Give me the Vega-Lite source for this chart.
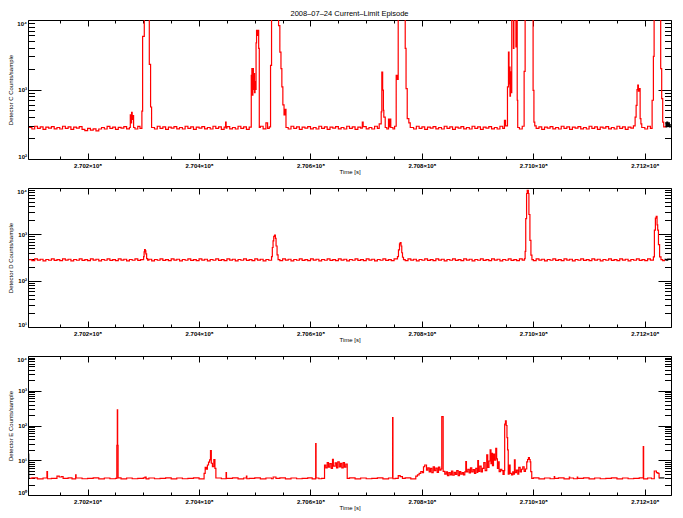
{
"$schema": "https://vega.github.io/schema/vega-lite/v6.json",
"background": "white",
"padding": {"left": 7, "top": 10, "right": 5, "bottom": 5},
"bounds": "flush",
"spacing": 29,
"config": {"font": "Liberation Sans", "view": {"stroke": null},
  "axis": {"grid": false, "domainColor": "black", "tickColor": "black", "labelColor": "black", "titleColor": "black", "domainWidth": 1, "tickWidth": 1, "labelFont": "Liberation Sans", "labelFontSize": 6, "labelFontWeight": "bold", "titleFont": "Liberation Sans", "titleFontSize": 6, "titleFontWeight": "normal"}},
"datasets": {
"c": [
{"t":270095000,"v":284},{"t":270100000,"v":270},{"t":270105000,"v":296},{"t":270110000,"v":276},{"t":270115000,"v":290},{"t":270120000,"v":266},{"t":270125000,"v":288},{"t":270130000,"v":279},{"t":270135000,"v":293},{"t":270140000,"v":272},
{"t":270145000,"v":284},{"t":270150000,"v":270},{"t":270155000,"v":296},{"t":270160000,"v":276},{"t":270165000,"v":290},{"t":270170000,"v":266},{"t":270175000,"v":288},{"t":270180000,"v":279},{"t":270185000,"v":293},
{"t":270190000,"v":266},{"t":270195000,"v":256},{"t":270200000,"v":276},{"t":270205000,"v":260},{"t":270210000,"v":272},{"t":270215000,"v":254},{"t":270220000,"v":270},
{"t":270225000,"v":284},{"t":270230000,"v":270},{"t":270235000,"v":294},{"t":270240000,"v":276},{"t":270245000,"v":288},{"t":270250000,"v":266},{"t":270255000,"v":286},{"t":270260000,"v":278},{"t":270265000,"v":292},{"t":270270000,"v":272},{"t":270275000,"v":284},
{"t":270276600,"v":430},{"t":270277700,"v":330},{"t":270278900,"v":470},{"t":270280000,"v":370},{"t":270281200,"v":420},{"t":270282500,"v":284},{"t":270285000,"v":270},{"t":270290000,"v":294},{"t":270294000,"v":276},
{"t":270297400,"v":490},{"t":270298700,"v":5820},{"t":270301700,"v":30000},{"t":270310700,"v":2300},{"t":270313000,"v":560},{"t":270314800,"v":284},
{"t":270320000,"v":270},{"t":270325000,"v":296},{"t":270330000,"v":276},{"t":270335000,"v":290},{"t":270340000,"v":266},{"t":270345000,"v":288},{"t":270350000,"v":279},{"t":270355000,"v":293},{"t":270360000,"v":272},{"t":270365000,"v":284},
{"t":270370000,"v":270},{"t":270375000,"v":296},{"t":270380000,"v":276},{"t":270385000,"v":290},{"t":270390000,"v":266},{"t":270395000,"v":288},{"t":270400000,"v":279},{"t":270405000,"v":293},{"t":270410000,"v":272},{"t":270415000,"v":284},
{"t":270420000,"v":270},{"t":270425000,"v":296},{"t":270430000,"v":276},{"t":270435000,"v":290},{"t":270440000,"v":266},{"t":270445000,"v":288},{"t":270447600,"v":340},{"t":270448600,"v":279},
{"t":270450000,"v":293},{"t":270455000,"v":272},{"t":270460000,"v":284},{"t":270465000,"v":270},{"t":270470000,"v":296},{"t":270475000,"v":276},{"t":270480000,"v":290},{"t":270485000,"v":266},{"t":270490000,"v":288},
{"t":270493700,"v":1600},{"t":270494800,"v":2000},{"t":270495700,"v":830},{"t":270496600,"v":2000},{"t":270497500,"v":1000},{"t":270498400,"v":1700},{"t":270499600,"v":900},{"t":270500500,"v":1300},{"t":270501400,"v":1000},{"t":270502300,"v":4700},{"t":270503200,"v":7100},{"t":270504600,"v":6000},{"t":270505800,"v":7100},{"t":270507000,"v":3900},{"t":270508100,"v":284},
{"t":270510000,"v":296},{"t":270515000,"v":272},{"t":270520000,"v":330},{"t":270523000,"v":276},{"t":270526000,"v":290},
{"t":270528300,"v":2230},{"t":270530100,"v":30000},{"t":270542700,"v":8300},{"t":270545000,"v":3460},{"t":270547000,"v":2000},{"t":270548600,"v":1090},{"t":270550400,"v":600},{"t":270552500,"v":430},{"t":270554500,"v":520},{"t":270556000,"v":284},
{"t":270560000,"v":270},{"t":270565000,"v":296},{"t":270570000,"v":276},{"t":270575000,"v":290},{"t":270580000,"v":266},{"t":270585000,"v":288},{"t":270590000,"v":279},{"t":270595000,"v":293},{"t":270600000,"v":272},{"t":270605000,"v":284},
{"t":270610000,"v":270},{"t":270615000,"v":296},{"t":270620000,"v":276},{"t":270625000,"v":290},{"t":270630000,"v":266},{"t":270635000,"v":288},{"t":270640000,"v":279},{"t":270645000,"v":293},{"t":270650000,"v":272},{"t":270655000,"v":284},
{"t":270660000,"v":270},{"t":270665000,"v":296},{"t":270670000,"v":276},{"t":270675000,"v":290},{"t":270680000,"v":266},{"t":270685000,"v":288},{"t":270690000,"v":279},{"t":270693000,"v":340},{"t":270694500,"v":293},
{"t":270700000,"v":272},{"t":270705000,"v":284},{"t":270710000,"v":270},{"t":270715000,"v":296},{"t":270720000,"v":276},
{"t":270723300,"v":320},{"t":270726900,"v":475},{"t":270728000,"v":1780},{"t":270729500,"v":980},{"t":270730800,"v":500},{"t":270731600,"v":400},{"t":270734100,"v":284},{"t":270737000,"v":270},{"t":270740000,"v":375},{"t":270741500,"v":290},{"t":270742500,"v":375},{"t":270744100,"v":284},{"t":270748000,"v":270},{"t":270751000,"v":296},
{"t":270753800,"v":1600},{"t":270755500,"v":1400},{"t":270757400,"v":30000},{"t":270770000,"v":3900},{"t":270771500,"v":1030},{"t":270773600,"v":380},{"t":270776500,"v":330},{"t":270779000,"v":284},
{"t":270785000,"v":270},{"t":270790000,"v":296},{"t":270795000,"v":276},{"t":270800000,"v":290},{"t":270805000,"v":266},{"t":270810000,"v":288},{"t":270815000,"v":279},{"t":270820000,"v":293},{"t":270825000,"v":272},{"t":270830000,"v":284},
{"t":270835000,"v":270},{"t":270840000,"v":296},{"t":270845000,"v":276},{"t":270850000,"v":290},{"t":270855000,"v":266},{"t":270860000,"v":288},{"t":270865000,"v":279},{"t":270870000,"v":293},{"t":270875000,"v":272},{"t":270880000,"v":284},
{"t":270885000,"v":270},{"t":270890000,"v":296},{"t":270895000,"v":276},{"t":270900000,"v":290},{"t":270905000,"v":266},{"t":270910000,"v":288},{"t":270915000,"v":279},{"t":270920000,"v":293},{"t":270925000,"v":272},{"t":270930000,"v":284},
{"t":270935000,"v":270},{"t":270940000,"v":296},{"t":270945000,"v":276},
{"t":270948100,"v":360},{"t":270950000,"v":300},{"t":270953500,"v":1090},{"t":270955300,"v":3460},{"t":270956300,"v":1200},{"t":270957100,"v":2100},{"t":270958000,"v":800},{"t":270958900,"v":1800},{"t":270960000,"v":900},{"t":270961200,"v":30000},{"t":270964200,"v":3900},{"t":270965000,"v":30000},{"t":270968700,"v":4100},{"t":270969600,"v":30000},{"t":270971000,"v":700},{"t":270971900,"v":284},
{"t":270975000,"v":270},{"t":270980000,"v":296},
{"t":270983400,"v":1820},{"t":270985200,"v":30000},{"t":270999500,"v":970},{"t":271001000,"v":340},{"t":271002500,"v":300},
{"t":271005000,"v":276},{"t":271010000,"v":290},{"t":271015000,"v":266},{"t":271020000,"v":288},{"t":271025000,"v":279},{"t":271030000,"v":293},{"t":271035000,"v":272},{"t":271040000,"v":284},{"t":271045000,"v":270},{"t":271050000,"v":296},
{"t":271055000,"v":276},{"t":271060000,"v":290},{"t":271065000,"v":266},{"t":271070000,"v":288},{"t":271075000,"v":279},{"t":271080000,"v":293},{"t":271085000,"v":272},{"t":271090000,"v":284},{"t":271095000,"v":270},{"t":271100000,"v":296},
{"t":271105000,"v":276},{"t":271110000,"v":290},{"t":271115000,"v":266},{"t":271120000,"v":288},{"t":271125000,"v":279},{"t":271130000,"v":293},{"t":271135000,"v":272},{"t":271140000,"v":284},{"t":271145000,"v":270},{"t":271150000,"v":296},
{"t":271155000,"v":276},{"t":271160000,"v":290},{"t":271165000,"v":266},{"t":271170000,"v":288},{"t":271175000,"v":279},
{"t":271179500,"v":300},{"t":271182600,"v":400},{"t":271184400,"v":590},{"t":271186000,"v":1000},{"t":271187300,"v":1160},{"t":271188500,"v":950},{"t":271189800,"v":1030},{"t":271191600,"v":380},{"t":271193000,"v":320},{"t":271194500,"v":284},
{"t":271200000,"v":270},{"t":271205000,"v":296},{"t":271210000,"v":276},
{"t":271213100,"v":700},{"t":271215400,"v":3000},{"t":271216700,"v":30000},{"t":271228500,"v":2000},{"t":271230300,"v":740},{"t":271232100,"v":340},{"t":271233900,"v":290},{"t":271236400,"v":284}
],
"cb": [
{"t":270093200,"v":290,"g":1},{"t":270095000,"v":285,"g":1},
{"t":271236400,"v":330,"g":2},{"t":271238000,"v":290,"g":2},{"t":271239500,"v":340,"g":2},{"t":271241000,"v":300,"g":2},{"t":271242500,"v":330,"g":2},{"t":271244000,"v":290,"g":2},{"t":271245500,"v":320,"g":2}
],
"d": [
{"t":270095000,"v":284},{"t":270100000,"v":272},{"t":270105000,"v":294},{"t":270110000,"v":278},{"t":270115000,"v":290},{"t":270120000,"v":268},{"t":270125000,"v":286},{"t":270130000,"v":276},{"t":270135000,"v":296},{"t":270140000,"v":274},
{"t":270145000,"v":284},{"t":270150000,"v":272},{"t":270155000,"v":294},{"t":270160000,"v":278},{"t":270165000,"v":290},{"t":270170000,"v":268},{"t":270175000,"v":286},{"t":270180000,"v":276},{"t":270185000,"v":296},{"t":270190000,"v":274},
{"t":270195000,"v":284},{"t":270200000,"v":272},{"t":270205000,"v":294},{"t":270210000,"v":278},{"t":270215000,"v":290},{"t":270220000,"v":268},{"t":270225000,"v":286},{"t":270230000,"v":276},{"t":270235000,"v":296},{"t":270240000,"v":274},
{"t":270245000,"v":284},{"t":270250000,"v":272},{"t":270255000,"v":294},{"t":270260000,"v":278},{"t":270265000,"v":290},{"t":270270000,"v":268},{"t":270275000,"v":286},{"t":270280000,"v":276},{"t":270285000,"v":296},{"t":270290000,"v":274},{"t":270295000,"v":284},
{"t":270300500,"v":330},{"t":270301400,"v":420},{"t":270302300,"v":470},{"t":270303500,"v":440},{"t":270304500,"v":380},{"t":270305900,"v":300},{"t":270307700,"v":278},
{"t":270310000,"v":290},{"t":270315000,"v":268},{"t":270320000,"v":286},{"t":270325000,"v":276},{"t":270330000,"v":296},{"t":270335000,"v":274},{"t":270340000,"v":284},{"t":270345000,"v":272},{"t":270350000,"v":294},{"t":270355000,"v":278},
{"t":270360000,"v":290},{"t":270365000,"v":268},{"t":270370000,"v":286},{"t":270375000,"v":276},{"t":270380000,"v":296},{"t":270385000,"v":274},{"t":270390000,"v":284},{"t":270395000,"v":272},{"t":270400000,"v":294},{"t":270405000,"v":278},
{"t":270410000,"v":290},{"t":270415000,"v":268},{"t":270420000,"v":286},{"t":270425000,"v":276},{"t":270430000,"v":296},{"t":270435000,"v":274},{"t":270440000,"v":284},{"t":270445000,"v":272},{"t":270450000,"v":294},{"t":270455000,"v":278},
{"t":270460000,"v":290},{"t":270465000,"v":268},{"t":270470000,"v":286},{"t":270475000,"v":276},{"t":270480000,"v":296},{"t":270485000,"v":274},{"t":270490000,"v":284},{"t":270495000,"v":272},{"t":270500000,"v":294},{"t":270505000,"v":278},
{"t":270510000,"v":290},{"t":270515000,"v":268},{"t":270520000,"v":286},{"t":270525000,"v":276},
{"t":270530100,"v":330},{"t":270531500,"v":520},{"t":270532800,"v":720},{"t":270534000,"v":900},{"t":270535500,"v":960},{"t":270537000,"v":820},{"t":270538200,"v":560},{"t":270540000,"v":360},{"t":270541800,"v":284},
{"t":270545000,"v":272},{"t":270550000,"v":294},{"t":270555000,"v":278},{"t":270560000,"v":290},{"t":270565000,"v":268},{"t":270570000,"v":286},{"t":270575000,"v":276},{"t":270580000,"v":296},{"t":270585000,"v":274},{"t":270590000,"v":284},
{"t":270595000,"v":272},{"t":270600000,"v":294},{"t":270605000,"v":278},{"t":270610000,"v":290},{"t":270615000,"v":268},{"t":270620000,"v":286},{"t":270625000,"v":276},{"t":270630000,"v":296},{"t":270635000,"v":274},{"t":270640000,"v":284},
{"t":270645000,"v":272},{"t":270650000,"v":294},{"t":270655000,"v":278},{"t":270660000,"v":290},{"t":270665000,"v":268},{"t":270670000,"v":286},{"t":270675000,"v":276},{"t":270680000,"v":296},{"t":270685000,"v":274},{"t":270690000,"v":284},
{"t":270695000,"v":272},{"t":270700000,"v":294},{"t":270705000,"v":278},{"t":270710000,"v":290},{"t":270715000,"v":268},{"t":270720000,"v":286},{"t":270725000,"v":276},{"t":270730000,"v":296},{"t":270735000,"v":274},{"t":270740000,"v":284},
{"t":270745000,"v":272},{"t":270750000,"v":294},
{"t":270756100,"v":330},{"t":270757900,"v":460},{"t":270759700,"v":620},{"t":270761000,"v":660},{"t":270762500,"v":560},{"t":270763800,"v":400},{"t":270765100,"v":320},{"t":270766900,"v":284},
{"t":270770000,"v":272},{"t":270775000,"v":294},{"t":270780000,"v":278},{"t":270785000,"v":290},{"t":270790000,"v":268},{"t":270795000,"v":286},{"t":270800000,"v":276},{"t":270805000,"v":296},{"t":270810000,"v":274},{"t":270815000,"v":284},
{"t":270820000,"v":272},{"t":270825000,"v":294},{"t":270830000,"v":278},{"t":270835000,"v":290},{"t":270840000,"v":268},{"t":270845000,"v":286},{"t":270850000,"v":276},{"t":270855000,"v":296},{"t":270860000,"v":274},{"t":270865000,"v":284},
{"t":270870000,"v":272},{"t":270875000,"v":294},{"t":270880000,"v":278},{"t":270885000,"v":290},{"t":270890000,"v":268},{"t":270895000,"v":286},{"t":270900000,"v":276},{"t":270905000,"v":296},{"t":270910000,"v":274},{"t":270915000,"v":284},
{"t":270920000,"v":272},{"t":270925000,"v":294},{"t":270930000,"v":278},{"t":270935000,"v":290},{"t":270940000,"v":268},{"t":270945000,"v":286},{"t":270950000,"v":276},{"t":270955000,"v":296},{"t":270960000,"v":274},{"t":270965000,"v":284},
{"t":270970000,"v":272},{"t":270975000,"v":294},{"t":270980000,"v":278},
{"t":270984000,"v":300},{"t":270985200,"v":430},{"t":270986300,"v":2180},{"t":270987800,"v":7600},{"t":270989000,"v":8900},{"t":270991000,"v":7600},{"t":270992000,"v":2680},{"t":270993800,"v":740},{"t":270995600,"v":355},{"t":270997400,"v":284},
{"t":271000000,"v":272},{"t":271005000,"v":294},{"t":271010000,"v":278},{"t":271015000,"v":290},{"t":271020000,"v":268},{"t":271025000,"v":286},{"t":271030000,"v":276},{"t":271035000,"v":296},{"t":271040000,"v":274},{"t":271045000,"v":284},
{"t":271050000,"v":272},{"t":271055000,"v":294},{"t":271060000,"v":278},{"t":271065000,"v":290},{"t":271070000,"v":268},{"t":271075000,"v":286},{"t":271080000,"v":276},{"t":271085000,"v":296},{"t":271090000,"v":274},{"t":271095000,"v":284},
{"t":271100000,"v":272},{"t":271105000,"v":294},{"t":271110000,"v":278},{"t":271115000,"v":290},{"t":271120000,"v":268},{"t":271125000,"v":286},{"t":271130000,"v":276},{"t":271135000,"v":296},{"t":271140000,"v":274},{"t":271145000,"v":284},
{"t":271150000,"v":272},{"t":271155000,"v":294},{"t":271160000,"v":278},{"t":271165000,"v":290},{"t":271170000,"v":268},{"t":271175000,"v":286},{"t":271180000,"v":276},{"t":271185000,"v":296},{"t":271190000,"v":274},{"t":271195000,"v":284},
{"t":271200000,"v":272},{"t":271205000,"v":294},{"t":271210000,"v":278},
{"t":271215400,"v":325},{"t":271217200,"v":1230},{"t":271219000,"v":2230},{"t":271220500,"v":2440},{"t":271222000,"v":1600},{"t":271223100,"v":1230},{"t":271224500,"v":600},{"t":271226500,"v":325},{"t":271229000,"v":284},{"t":271232000,"v":272},{"t":271235300,"v":284}
],
"db": [
{"t":270093200,"v":282,"g":1},{"t":270095000,"v":282,"g":1},
{"t":271235300,"v":290,"g":2},{"t":271238000,"v":276,"g":2},{"t":271241000,"v":292,"g":2},{"t":271245500,"v":280,"g":2}
],
"e": [
{"t":270096800,"v":3.0},{"t":270100000,"v":3.12},{"t":270110000,"v":2.9},{"t":270120000,"v":3.08},{"t":270127000,"v":4.7},{"t":270128000,"v":2.94},{"t":270135000,"v":3.0},
{"t":270145000,"v":3.5},{"t":270149000,"v":3.3},{"t":270153000,"v":3.4},{"t":270156000,"v":3.0},{"t":270165000,"v":3.12},{"t":270172000,"v":2.9},{"t":270178500,"v":3.8},{"t":270179300,"v":3.08},
{"t":270190000,"v":2.94},{"t":270200000,"v":3.0},{"t":270210000,"v":3.12},{"t":270220000,"v":2.9},{"t":270230000,"v":3.08},{"t":270240000,"v":2.94},{"t":270250000,"v":3.0},
{"t":270252400,"v":27},{"t":270253300,"v":280},{"t":270253900,"v":27},{"t":270254700,"v":3.12},
{"t":270260000,"v":2.9},{"t":270270000,"v":3.08},{"t":270280000,"v":2.94},{"t":270290000,"v":3.0},{"t":270300000,"v":3.12},{"t":270303000,"v":3.3},{"t":270305000,"v":2.9},
{"t":270310000,"v":3.08},{"t":270320000,"v":2.94},{"t":270330000,"v":3.0},{"t":270340000,"v":3.12},{"t":270350000,"v":2.9},{"t":270360000,"v":3.08},{"t":270370000,"v":2.94},{"t":270380000,"v":3.0},{"t":270390000,"v":3.12},{"t":270400000,"v":2.9},
{"t":270409000,"v":4.2},{"t":270411000,"v":6.2},{"t":270413000,"v":5.5},{"t":270415000,"v":7.3},{"t":270417000,"v":8.8},{"t":270418900,"v":10.2},{"t":270420500,"v":18.9},{"t":270422000,"v":8.2},{"t":270424000,"v":6.5},{"t":270426500,"v":10.4},{"t":270428500,"v":5.8},{"t":270430200,"v":3.08},
{"t":270440000,"v":2.94},{"t":270448500,"v":4.4},{"t":270449200,"v":3.0},{"t":270460000,"v":3.12},{"t":270470000,"v":2.9},{"t":270480000,"v":3.08},{"t":270485000,"v":3.5},{"t":270485800,"v":2.94},
{"t":270490000,"v":3.0},{"t":270500000,"v":3.12},{"t":270510000,"v":2.9},{"t":270520000,"v":3.08},{"t":270530000,"v":2.94},{"t":270533000,"v":3.3},{"t":270538000,"v":3.0},
{"t":270545000,"v":3.12},{"t":270555000,"v":2.9},{"t":270565000,"v":3.08},{"t":270575000,"v":2.94},{"t":270585000,"v":3.0},{"t":270595000,"v":3.12},{"t":270603000,"v":2.9},
{"t":270609300,"v":30},{"t":270610000,"v":3.08},{"t":270615000,"v":2.94},{"t":270620000,"v":3.0},
{"t":270625200,"v":7.3},{"t":270627500,"v":6.0},{"t":270630000,"v":8.5},{"t":270632300,"v":6.3},{"t":270634700,"v":8.0},{"t":270637200,"v":5.8},{"t":270639500,"v":10.6},{"t":270641000,"v":6.8},{"t":270644300,"v":8.4},{"t":270646700,"v":6.0},
{"t":270649000,"v":9.0},{"t":270651600,"v":6.4},{"t":270653900,"v":8.2},{"t":270656200,"v":6.0},{"t":270658700,"v":8.6},{"t":270661000,"v":6.3},{"t":270663400,"v":7.8},{"t":270665900,"v":3.0},
{"t":270670000,"v":3.12},{"t":270680000,"v":2.9},{"t":270690000,"v":3.08},{"t":270700000,"v":2.94},{"t":270710000,"v":3.0},{"t":270720000,"v":3.12},{"t":270730000,"v":2.9},{"t":270740000,"v":3.08},
{"t":270747400,"v":168},{"t":270748000,"v":2.94},{"t":270752000,"v":3.0},{"t":270757500,"v":3.6},{"t":270761000,"v":3.4},{"t":270765000,"v":3.0},{"t":270770000,"v":3.12},{"t":270780000,"v":2.9},
{"t":270789000,"v":3.5},{"t":270792000,"v":3.8},{"t":270795000,"v":4.2},{"t":270798000,"v":4.7},{"t":270801000,"v":4.4},{"t":270802800,"v":6.5},{"t":270805000,"v":7.3},
{"t":270808200,"v":5.2},{"t":270810500,"v":6.0},{"t":270813000,"v":4.6},{"t":270815300,"v":5.8},{"t":270817700,"v":4.4},{"t":270820200,"v":6.5},{"t":270822500,"v":5.0},{"t":270824900,"v":5.9},{"t":270827400,"v":4.5},{"t":270829700,"v":6.3},
{"t":270832000,"v":5.2},{"t":270834200,"v":5.6},{"t":270835600,"v":180},{"t":270838100,"v":4.8},{"t":270841000,"v":4.0},{"t":270843500,"v":4.6},{"t":270845800,"v":3.6},{"t":270848200,"v":4.4},{"t":270850700,"v":3.8},{"t":270853000,"v":4.9},
{"t":270855300,"v":3.7},{"t":270857900,"v":4.5},{"t":270860200,"v":3.9},{"t":270862500,"v":5.0},{"t":270865000,"v":3.6},{"t":270867400,"v":4.7},{"t":270869700,"v":4.0},{"t":270872200,"v":4.4},{"t":270874500,"v":3.8},{"t":270876900,"v":4.6},
{"t":270878700,"v":9.1},{"t":270879900,"v":4.6},{"t":270882300,"v":5.5},{"t":270884800,"v":4.3},{"t":270887100,"v":6.0},{"t":270889400,"v":4.6},{"t":270891900,"v":5.4},{"t":270894300,"v":4.2},{"t":270896600,"v":5.8},{"t":270899100,"v":4.5},
{"t":270900200,"v":9.7},{"t":270901500,"v":4.8},{"t":270903800,"v":6.8},{"t":270906300,"v":4.6},{"t":270908600,"v":5.8},{"t":270911000,"v":8.5},{"t":270913500,"v":5.0},{"t":270916300,"v":14.2},{"t":270918100,"v":6.2},{"t":270920300,"v":9.5},
{"t":270922400,"v":19.8},{"t":270923900,"v":8.0},{"t":270925300,"v":15.8},{"t":270926600,"v":7.0},{"t":270928400,"v":15.0},{"t":270930200,"v":10.0},{"t":270932500,"v":22},{"t":270934100,"v":11},{"t":270935500,"v":5.8},{"t":270937300,"v":9},
{"t":270938600,"v":4.7},{"t":270940900,"v":5.5},{"t":270943300,"v":5.0},{"t":270945500,"v":3.9},{"t":270947600,"v":5.0},{"t":270948500,"v":110},{"t":270949900,"v":135},{"t":270951300,"v":100},{"t":270952600,"v":45},{"t":270953800,"v":20},
{"t":270954900,"v":4.0},{"t":270956500,"v":7.3},{"t":270958300,"v":4.2},{"t":270960700,"v":3.8},{"t":270963000,"v":4.6},{"t":270964800,"v":4.0},{"t":270966000,"v":10.2},{"t":270967300,"v":4.4},{"t":270969600,"v":5.2},{"t":270972000,"v":4.0},
{"t":270973800,"v":6.2},{"t":270976300,"v":4.6},{"t":270978600,"v":5.5},{"t":270980900,"v":6.5},{"t":270983400,"v":4.8},{"t":270985800,"v":5.6},{"t":270988100,"v":9.0},{"t":270989700,"v":10.5},{"t":270991200,"v":11.9},{"t":270992900,"v":10.5},
{"t":270994200,"v":9.0},{"t":270995300,"v":4.7},{"t":270997100,"v":3.0},
{"t":271000000,"v":3.12},{"t":271010000,"v":2.9},{"t":271020000,"v":3.08},{"t":271030000,"v":2.94},{"t":271037500,"v":3.4},{"t":271038200,"v":3.0},{"t":271045000,"v":3.12},{"t":271055000,"v":2.9},{"t":271064500,"v":3.3},{"t":271065200,"v":3.08},
{"t":271072000,"v":2.94},{"t":271078800,"v":3.3},{"t":271079500,"v":3.0},{"t":271090000,"v":3.12},{"t":271100000,"v":2.9},{"t":271110000,"v":3.08},{"t":271120000,"v":2.94},{"t":271130000,"v":3.0},{"t":271140000,"v":3.12},{"t":271150000,"v":2.9},
{"t":271160000,"v":3.08},{"t":271170000,"v":2.94},{"t":271180000,"v":3.0},{"t":271190000,"v":3.12},{"t":271197200,"v":24.7},{"t":271197900,"v":2.9},{"t":271205000,"v":3.08},{"t":271212000,"v":2.94},
{"t":271217000,"v":4.9},{"t":271220800,"v":4.4},{"t":271223500,"v":4.2},{"t":271225600,"v":3.0}
],
"eb": [
{"t":270093400,"v":15,"g":1},{"t":270094300,"v":3,"g":1},{"t":270096800,"v":3,"g":1},
{"t":271225600,"v":3.1,"g":2},{"t":271235100,"v":3.1,"g":2}
]
},
"vconcat": [
{
"width": 643, "height": 139,
"title": {"text": "2008–07–24 Current–Limit Episode", "font": "Liberation Sans", "fontSize": 7.5, "fontWeight": "normal", "offset": 2, "color": "black"},
"resolve": {"axis": {"x": "independent", "y": "independent"}},
"layer": [
{"data": {"name": "cb"}, "mark": {"type": "line", "color": "black", "strokeWidth": 1.2, "interpolate": "step-after", "clip": true},
 "encoding": {
  "x": {"field": "t", "type": "quantitative", "scale": {"domain": [270093000, 271247000], "nice": false, "zero": false},
        "axis": {"orient": "bottom", "values": [270200000,270400000,270600000,270800000,271000000,271200000], "labelExpr": "format(datum.value/1e8,'.3f')+'×10⁸'", "tickSize": -6, "labelPadding": 9, "labelFlush": false, "title": "Time [s]", "titlePadding": 0}},
  "y": {"field": "v", "type": "quantitative", "scale": {"type": "log", "domain": [100, 10000], "nice": false},
        "axis": {"orient": "left", "values": [100,1000,10000], "labelExpr": "'10'+['⁰','¹','²','³','⁴','⁵','⁶','⁷'][round(log(datum.value)/LN10)]", "tickSize": -13, "labelPadding": 14.5, "labelFlush": true, "title": "Detector C Counts/sample", "titlePadding": 3}},
  "detail": {"field": "g", "type": "nominal"}}},
{"data": {"name": "c"}, "mark": {"type": "line", "color": "#ff0000", "strokeWidth": 1.2, "interpolate": "step-after", "clip": true},
 "encoding": {
  "x": {"field": "t", "type": "quantitative", "scale": {"domain": [270093000, 271247000], "nice": false, "zero": false},
        "axis": {"orient": "top", "values": [270200000,270400000,270600000,270800000,271000000,271200000], "labels": false, "tickSize": -6, "title": null}},
  "y": {"field": "v", "type": "quantitative", "scale": {"type": "log", "domain": [100, 10000], "nice": false},
        "axis": {"orient": "right", "values": [100,1000,10000], "labels": false, "tickSize": -13, "title": null}}}},
{"data": {"name": "cb"}, "mark": {"type": "line", "opacity": 0, "clip": true},
 "encoding": {
  "x": {"field": "t", "type": "quantitative", "scale": {"domain": [270093000, 271247000], "nice": false, "zero": false},
        "axis": {"orient": "bottom", "values": [270150000,270250000,270300000,270350000,270450000,270500000,270550000,270650000,270700000,270750000,270850000,270900000,270950000,271050000,271100000,271150000], "labels": false, "domain": false, "tickSize": -3, "title": null}},
  "y": {"field": "v", "type": "quantitative", "scale": {"type": "log", "domain": [100, 10000], "nice": false},
        "axis": {"orient": "left", "values": [200,300,400,500,600,700,800,900,2000,3000,4000,5000,6000,7000,8000,9000], "labels": false, "domain": false, "tickSize": -6.5, "title": null}}}},
{"data": {"name": "cb"}, "mark": {"type": "line", "opacity": 0, "clip": true},
 "encoding": {
  "x": {"field": "t", "type": "quantitative", "scale": {"domain": [270093000, 271247000], "nice": false, "zero": false},
        "axis": {"orient": "top", "values": [270150000,270250000,270300000,270350000,270450000,270500000,270550000,270650000,270700000,270750000,270850000,270900000,270950000,271050000,271100000,271150000], "labels": false, "domain": false, "tickSize": -3, "title": null}},
  "y": {"field": "v", "type": "quantitative", "scale": {"type": "log", "domain": [100, 10000], "nice": false},
        "axis": {"orient": "right", "values": [200,300,400,500,600,700,800,900,2000,3000,4000,5000,6000,7000,8000,9000], "labels": false, "domain": false, "tickSize": -6.5, "title": null}}}}
]
},
{
"width": 643, "height": 139,
"resolve": {"axis": {"x": "independent", "y": "independent"}},
"layer": [
{"data": {"name": "db"}, "mark": {"type": "line", "color": "black", "strokeWidth": 1.2, "interpolate": "step-after", "clip": true},
 "encoding": {
  "x": {"field": "t", "type": "quantitative", "scale": {"domain": [270093000, 271247000], "nice": false, "zero": false},
        "axis": {"orient": "bottom", "values": [270200000,270400000,270600000,270800000,271000000,271200000], "labelExpr": "format(datum.value/1e8,'.3f')+'×10⁸'", "tickSize": -6, "labelPadding": 9, "labelFlush": false, "title": "Time [s]", "titlePadding": 0}},
  "y": {"field": "v", "type": "quantitative", "scale": {"type": "log", "domain": [10, 10000], "nice": false},
        "axis": {"orient": "left", "values": [10,100,1000,10000], "labelExpr": "'10'+['⁰','¹','²','³','⁴','⁵','⁶','⁷'][round(log(datum.value)/LN10)]", "tickSize": -13, "labelPadding": 14.5, "labelFlush": true, "title": "Detector D Counts/sample", "titlePadding": 3}},
  "detail": {"field": "g", "type": "nominal"}}},
{"data": {"name": "d"}, "mark": {"type": "line", "color": "#ff0000", "strokeWidth": 1.2, "interpolate": "step-after", "clip": true},
 "encoding": {
  "x": {"field": "t", "type": "quantitative", "scale": {"domain": [270093000, 271247000], "nice": false, "zero": false},
        "axis": {"orient": "top", "values": [270200000,270400000,270600000,270800000,271000000,271200000], "labels": false, "tickSize": -6, "title": null}},
  "y": {"field": "v", "type": "quantitative", "scale": {"type": "log", "domain": [10, 10000], "nice": false},
        "axis": {"orient": "right", "values": [10,100,1000,10000], "labels": false, "tickSize": -13, "title": null}}}},
{"data": {"name": "db"}, "mark": {"type": "line", "opacity": 0, "clip": true},
 "encoding": {
  "x": {"field": "t", "type": "quantitative", "scale": {"domain": [270093000, 271247000], "nice": false, "zero": false},
        "axis": {"orient": "bottom", "values": [270150000,270250000,270300000,270350000,270450000,270500000,270550000,270650000,270700000,270750000,270850000,270900000,270950000,271050000,271100000,271150000], "labels": false, "domain": false, "tickSize": -3, "title": null}},
  "y": {"field": "v", "type": "quantitative", "scale": {"type": "log", "domain": [10, 10000], "nice": false},
        "axis": {"orient": "left", "values": [20,30,40,50,60,70,80,90,200,300,400,500,600,700,800,900,2000,3000,4000,5000,6000,7000,8000,9000], "labels": false, "domain": false, "tickSize": -6.5, "title": null}}}},
{"data": {"name": "db"}, "mark": {"type": "line", "opacity": 0, "clip": true},
 "encoding": {
  "x": {"field": "t", "type": "quantitative", "scale": {"domain": [270093000, 271247000], "nice": false, "zero": false},
        "axis": {"orient": "top", "values": [270150000,270250000,270300000,270350000,270450000,270500000,270550000,270650000,270700000,270750000,270850000,270900000,270950000,271050000,271100000,271150000], "labels": false, "domain": false, "tickSize": -3, "title": null}},
  "y": {"field": "v", "type": "quantitative", "scale": {"type": "log", "domain": [10, 10000], "nice": false},
        "axis": {"orient": "right", "values": [20,30,40,50,60,70,80,90,200,300,400,500,600,700,800,900,2000,3000,4000,5000,6000,7000,8000,9000], "labels": false, "domain": false, "tickSize": -6.5, "title": null}}}}
]
},
{
"width": 643, "height": 139,
"resolve": {"axis": {"x": "independent", "y": "independent"}},
"layer": [
{"data": {"name": "eb"}, "mark": {"type": "line", "color": "black", "strokeWidth": 1.2, "interpolate": "step-after", "clip": true},
 "encoding": {
  "x": {"field": "t", "type": "quantitative", "scale": {"domain": [270093000, 271247000], "nice": false, "zero": false},
        "axis": {"orient": "bottom", "values": [270200000,270400000,270600000,270800000,271000000,271200000], "labelExpr": "format(datum.value/1e8,'.3f')+'×10⁸'", "tickSize": -6, "labelPadding": 9, "labelFlush": false, "title": "Time [s]", "titlePadding": 0}},
  "y": {"field": "v", "type": "quantitative", "scale": {"type": "log", "domain": [1, 10000], "nice": false},
        "axis": {"orient": "left", "values": [1,10,100,1000,10000], "labelExpr": "'10'+['⁰','¹','²','³','⁴','⁵','⁶','⁷'][round(log(datum.value)/LN10)]", "tickSize": -13, "labelPadding": 14.5, "labelFlush": true, "title": "Detector E Counts/sample", "titlePadding": 3}},
  "detail": {"field": "g", "type": "nominal"}}},
{"data": {"name": "e"}, "mark": {"type": "line", "color": "#ff0000", "strokeWidth": 1.2, "interpolate": "step-after", "clip": true},
 "encoding": {
  "x": {"field": "t", "type": "quantitative", "scale": {"domain": [270093000, 271247000], "nice": false, "zero": false},
        "axis": {"orient": "top", "values": [270200000,270400000,270600000,270800000,271000000,271200000], "labels": false, "tickSize": -6, "title": null}},
  "y": {"field": "v", "type": "quantitative", "scale": {"type": "log", "domain": [1, 10000], "nice": false},
        "axis": {"orient": "right", "values": [1,10,100,1000,10000], "labels": false, "tickSize": -13, "title": null}}}},
{"data": {"name": "eb"}, "mark": {"type": "line", "opacity": 0, "clip": true},
 "encoding": {
  "x": {"field": "t", "type": "quantitative", "scale": {"domain": [270093000, 271247000], "nice": false, "zero": false},
        "axis": {"orient": "bottom", "values": [270150000,270250000,270300000,270350000,270450000,270500000,270550000,270650000,270700000,270750000,270850000,270900000,270950000,271050000,271100000,271150000], "labels": false, "domain": false, "tickSize": -3, "title": null}},
  "y": {"field": "v", "type": "quantitative", "scale": {"type": "log", "domain": [1, 10000], "nice": false},
        "axis": {"orient": "left", "values": [2,3,4,5,6,7,8,9,20,30,40,50,60,70,80,90,200,300,400,500,600,700,800,900,2000,3000,4000,5000,6000,7000,8000,9000], "labels": false, "domain": false, "tickSize": -6.5, "title": null}}}},
{"data": {"name": "eb"}, "mark": {"type": "line", "opacity": 0, "clip": true},
 "encoding": {
  "x": {"field": "t", "type": "quantitative", "scale": {"domain": [270093000, 271247000], "nice": false, "zero": false},
        "axis": {"orient": "top", "values": [270150000,270250000,270300000,270350000,270450000,270500000,270550000,270650000,270700000,270750000,270850000,270900000,270950000,271050000,271100000,271150000], "labels": false, "domain": false, "tickSize": -3, "title": null}},
  "y": {"field": "v", "type": "quantitative", "scale": {"type": "log", "domain": [1, 10000], "nice": false},
        "axis": {"orient": "right", "values": [2,3,4,5,6,7,8,9,20,30,40,50,60,70,80,90,200,300,400,500,600,700,800,900,2000,3000,4000,5000,6000,7000,8000,9000], "labels": false, "domain": false, "tickSize": -6.5, "title": null}}}}
]
}
]
}
